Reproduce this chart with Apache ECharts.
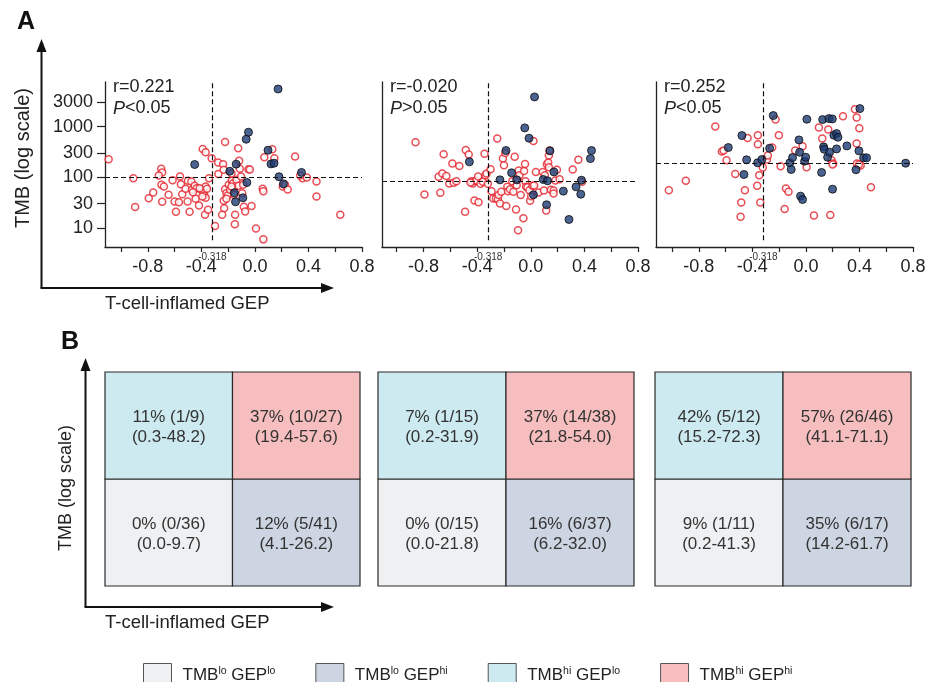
<!DOCTYPE html>
<html><head><meta charset="utf-8">
<script src="https://cdn.jsdelivr.net/npm/echarts@6/dist/echarts.min.js"></script>
<style>html,body{margin:0;padding:0;background:#fff}#c{width:939px;height:682px}</style>
</head><body><div id="c"></div>
<script>
// ---------- Panel A data: [GEP score, TMB] ----------
const p1Red = [[-1.093,226],[-0.908,95],[-0.895,25.6],[-0.793,38.5],[-0.760,49.8],[-0.700,146],[-0.693,124],[-0.718,108],[-0.698,70.6],[-0.680,65.5],[-0.693,32.6],[-0.645,44.8],[-0.615,87.3],[-0.600,33.1],[-0.590,20.7],[-0.568,32.1],[-0.560,103],[-0.553,72.8],[-0.543,46.1],[-0.518,58.9],[-0.503,33.1],[-0.500,84.7],[-0.488,20.7],[-0.475,82.1],[-0.470,56.2],[-0.450,67.4],[-0.443,37.3],[-0.435,60.7],[-0.418,27.6],[-0.400,56.2],[-0.385,50.6],[-0.378,43.5],[-0.368,65.5],[-0.368,39.1],[-0.373,18.1],[-0.350,22.6],[-0.390,362],[-0.368,311],[-0.343,95.5],[-0.323,237],[-0.413,60.7],[-0.393,41.5],[-0.463,50.6],[-0.358,58.9],[-0.298,10.9],[-0.275,195],[-0.273,115],[-0.238,181],[-0.233,140],[-0.223,498],[-0.223,57.9],[-0.233,34.1],[-0.230,24.4],[-0.245,18.1],[-0.213,48.3],[-0.203,43.5],[-0.195,70.6],[-0.185,56.2],[-0.173,84.7],[-0.163,76.2],[-0.158,60.7],[-0.150,11.8],[-0.148,18.1],[-0.138,88.5],[-0.125,373],[-0.118,210],[-0.113,146],[-0.103,103],[-0.095,48.3],[-0.083,25.9],[-0.073,21.0],[-0.048,144],[-0.038,142],[-0.025,26.8],[0.008,9.7],[0.058,58.9],[0.063,53],[0.063,5.9],[0.070,248],[0.130,357],[0.145,237],[0.208,65.5],[0.225,70.6],[0.245,57.1],[0.300,256],[0.355,95.5],[0.388,98.5],[0.460,82.1],[0.460,41.5],[0.638,18.1],[-0.123,67.4],[-0.155,44.8],[0.338,108],[-0.175,118],[-0.213,37.3],[-0.175,65.5],[-0.088,70.6]];
const p1Blue = [[-0.450,178],[-0.188,131],[-0.140,181],[-0.060,78.5],[-0.153,49.1],[-0.145,32.6],[-0.090,39.1],[-0.065,562],[-0.048,773],[0.098,341],[0.120,183],[0.143,189],[0.180,102],[0.213,73.8],[0.348,124],[0.173,5530]];
const p2Red = [[-0.860,491],[-0.793,45.5],[-0.688,102],[-0.675,49.1],[-0.660,118],[-0.650,284],[-0.630,106],[-0.608,75],[-0.585,186],[-0.575,77.3],[-0.555,83.4],[-0.533,167],[-0.490,20.7],[-0.485,346],[-0.463,280],[-0.443,83.4],[-0.433,75],[-0.420,34.6],[-0.418,83.4],[-0.405,85.9],[-0.393,103],[-0.390,32.1],[-0.375,73.8],[-0.358,80.9],[-0.345,289],[-0.338,109],[-0.330,118],[-0.320,73.8],[-0.450,78.5],[-0.300,144],[-0.293,52.9],[-0.280,37.9],[-0.260,37.9],[-0.250,579],[-0.245,36.8],[-0.240,44.2],[-0.230,30.2],[-0.220,51.4],[-0.208,233],[-0.200,172],[-0.190,302],[-0.183,26.8],[-0.175,64.4],[-0.170,52.9],[-0.155,57.9],[-0.138,83.4],[-0.130,51.4],[-0.120,252],[-0.110,23.0],[-0.105,69.5],[-0.100,91.4],[-0.090,135],[-0.095,8.9],[-0.085,109],[-0.075,44.2],[-0.055,15.5],[-0.050,133],[-0.043,183],[-0.040,83.4],[-0.035,64.4],[-0.025,63.5],[-0.010,55.3],[-0.005,34.1],[0.003,42.2],[0.013,67.4],[0.020,521],[0.025,68.5],[0.038,127],[0.058,49.8],[0.090,127],[0.098,54.6],[0.105,109],[0.115,22.0],[0.120,181],[0.130,195],[0.135,268],[0.140,336],[0.135,157],[0.150,56.2],[0.170,54.6],[0.170,47.6],[0.183,85.9],[0.195,140],[0.215,91.4],[0.313,142],[0.355,220],[0.383,80.9]];
const p2Blue = [[-0.458,201],[-0.230,88.5],[-0.185,336],[-0.143,122],[-0.105,88.5],[-0.045,942],[-0.013,589],[0.020,44.8],[0.028,3850],[0.093,89.9],[0.125,84.7],[0.143,331],[0.173,127],[0.118,28.5],[0.243,52.9],[0.285,14.6],[0.338,64.4],[0.373,46.1],[0.378,87.3],[0.445,233],[0.453,336]];
const p3Red = [[-1.024,55.3],[-0.897,84.7],[-0.677,1000],[-0.628,321],[-0.615,336],[-0.593,217],[-0.528,115],[-0.488,16.5],[-0.483,31.6],[-0.456,55.3],[-0.436,597],[-0.364,67.4],[-0.359,674],[-0.359,448],[-0.349,109],[-0.341,31.6],[-0.322,155],[-0.291,223],[-0.284,268],[-0.252,385],[-0.227,1374],[-0.202,674],[-0.189,165],[-0.159,23.4],[-0.149,59.7],[-0.130,51.4],[-0.080,336],[-0.025,409],[0.005,157],[0.060,17.5],[0.097,955],[0.122,579],[0.167,873],[0.182,17.8],[0.192,217],[0.204,186],[0.277,1600],[0.366,2200],[0.379,1506],[0.379,462],[0.381,186],[0.399,927],[0.409,170],[0.486,63.5],[0.199,178],[0.396,178]];
const p3Blue = [[-0.580,385],[-0.478,664],[-0.463,113],[-0.443,220],[-0.361,192],[-0.329,223],[-0.271,373],[-0.244,1650],[-0.120,192],[-0.110,142],[-0.100,244],[-0.052,545],[-0.047,311],[-0.040,42.2],[-0.025,36.2],[-0.010,207],[-0.002,248],[0.007,1396],[0.117,124],[0.125,1375],[0.132,397],[0.137,357],[0.162,248],[0.172,1440],[0.177,311],[0.197,1416],[0.199,57.9],[0.209,674],[0.229,728],[0.239,615],[0.229,362],[0.306,415],[0.374,140],[0.396,331],[0.403,2265],[0.431,241],[0.453,241],[0.745,189]];

const statR = ['r=0.221', 'r=-0.020', 'r=0.252'];
const statP = ['<0.05', '>0.05', '<0.05'];
const gepCut = -0.318;
const tmbCut = [100, 83, 186];
const gepMin = [-1.12, -1.11, -1.12];
const gepMax = 0.8;
const tmbMin = 4.17, tmbMax = 7600;
const vLineTmb = [5.7, 7300];
const gepTicks = [-1.0, -0.8, -0.6, -0.4, -0.2, 0.0, 0.2, 0.4, 0.6, 0.8];
const gepLabels = [-0.8, -0.4, 0.0, 0.4, 0.8];
const tmbTicks = [10, 30, 100, 300, 1000, 3000];

// ---------- Panel B data ----------
const classKeys = ['lolo', 'lohi', 'hilo', 'hihi'];
const classGep = ['lo', 'hi', 'lo', 'hi'];
const classTmb = ['lo', 'lo', 'hi', 'hi'];
const classNames = ['TMB{s|lo} GEP{s|lo}', 'TMB{s|lo} GEP{s|hi}', 'TMB{s|hi} GEP{s|lo}', 'TMB{s|hi} GEP{s|hi}'];
const classColors = ['#eff0f2', '#ced5e2', '#cdeaf0', '#f6bebe'];
const bRate = [
  ['0% (0/36)', '12% (5/41)', '11% (1/9)', '37% (10/27)'],
  ['0% (0/15)', '16% (6/37)', '7% (1/15)', '37% (14/38)'],
  ['9% (1/11)', '35% (6/17)', '42% (5/12)', '57% (26/46)']
];
const bCI = [
  ['(0.0-9.7)', '(4.1-26.2)', '(0.3-48.2)', '(19.4-57.6)'],
  ['(0.0-21.8)', '(6.2-32.0)', '(0.2-31.9)', '(21.8-54.0)'],
  ['(0.2-41.3)', '(14.2-61.7)', '(15.2-72.3)', '(41.1-71.1)']
];
const levels = ['lo', 'hi'];

// ---------- layout ----------
const FONT = '"Liberation Sans", Arial, Helvetica, sans-serif';
const aGrids = [
  {left: 105, top: 82, width: 257, height: 165},
  {left: 382, top: 82, width: 256, height: 165},
  {left: 656, top: 82, width: 257, height: 165}
];
const bGrids = [
  {left: 105, top: 372, width: 255, height: 214},
  {left: 378, top: 372, width: 256, height: 214},
  {left: 655, top: 372, width: 256, height: 214}
];
const redSets = [p1Red, p2Red, p3Red];
const blueSets = [p1Blue, p2Blue, p3Blue];
const lg = v => Math.log10(v);

const grid = [], xAxis = [], yAxis = [], series = [], graphic = [];

aGrids.forEach((g, i) => {
  grid.push(Object.assign({}, g));
  xAxis.push({
    type: 'value', gridIndex: i, min: gepMin[i], max: gepMax,
    axisLine: {show: true, onZero: false, lineStyle: {color: '#222', width: 1.3}},
    axisTick: {show: true, length: 5, customValues: gepTicks, lineStyle: {color: '#222', width: 1.2}},
    axisLabel: {show: true, customValues: gepLabels, margin: 11, fontSize: 18, color: '#222', fontFamily: FONT,
      formatter: v => v.toFixed(1)},
    splitLine: {show: false}
  });
  yAxis.push({
    type: 'value', gridIndex: i, min: lg(tmbMin), max: lg(tmbMax),
    axisLine: {show: true, onZero: false, lineStyle: {color: '#222', width: 1.3}},
    axisTick: {show: i === 0, length: 8, customValues: tmbTicks.map(lg), lineStyle: {color: '#222', width: 1.2}},
    axisLabel: {show: i === 0, customValues: tmbTicks.map(lg), margin: 12, fontSize: 18, color: '#222', fontFamily: FONT,
      formatter: v => String(Math.round(Math.pow(10, v)))},
    splitLine: {show: false}
  });
  series.push({
    type: 'scatter', xAxisIndex: i, yAxisIndex: i, symbol: 'circle', symbolSize: 7,
    data: redSets[i].map(d => [d[0], lg(d[1])]),
    itemStyle: {color: '#ffffff', borderColor: '#e4202a', borderWidth: 1.5},
    z: 3, silent: true,
    markLine: {
      silent: true, symbol: ['none', 'none'], animation: false,
      lineStyle: {color: '#111', width: 1.2, type: [5, 3]},
      data: [
        [{coord: [gepCut, lg(vLineTmb[0])], label: {show: true, position: 'start', formatter: gepCut.toFixed(3), fontSize: 10, color: '#333', distance: 12, fontFamily: FONT}},
         {coord: [gepCut, lg(vLineTmb[1])]}],
        {yAxis: lg(tmbCut[i]), label: {show: false}}
      ]
    }
  });
  series.push({
    type: 'scatter', xAxisIndex: i, yAxisIndex: i, symbol: 'circle', symbolSize: 8,
    data: blueSets[i].map(d => [d[0], lg(d[1])]),
    itemStyle: {color: '#1e3c74', borderColor: '#0a0a0a', borderWidth: 1},
    z: 4, silent: true
  });
  graphic.push({
    type: 'text', left: g.left + 8, top: 77, z: 10,
    style: {text: statR[i] + '\n{i|P}' + statP[i], fontSize: 18, lineHeight: 21, fill: '#222', fontFamily: FONT,
      rich: {i: {fontStyle: 'italic', fontSize: 18, fontFamily: FONT, fill: '#222'}}}
  });
});

bGrids.forEach((g, j) => {
  const gi = 3 + j;
  grid.push(Object.assign({}, g));
  xAxis.push({type: 'category', gridIndex: gi, data: levels, show: false});
  yAxis.push({type: 'category', gridIndex: gi, data: levels, show: false});
  classKeys.forEach((k, c) => {
    series.push({
      type: 'custom', name: k, xAxisIndex: gi, yAxisIndex: gi,
      itemStyle: {color: classColors[c], borderColor: '#555', borderWidth: 1},
      data: [[classGep[c], classTmb[c], bRate[j][c], bCI[j][c]]],
      encode: {x: 0, y: 1},
      silent: true,
      renderItem: function (params, api) {
        const p = api.coord([api.value(0), api.value(1)]);
        const s = api.size([1, 1]);
        return {
          type: 'group',
          children: [
            {type: 'rect', shape: {x: p[0] - s[0] / 2, y: p[1] - s[1] / 2, width: s[0], height: s[1]},
             style: {fill: classColors[c], stroke: '#2a2a2a', lineWidth: 1.2}},
            {type: 'text', x: p[0], y: p[1] + 2,
             style: {text: bRate[j][c] + '\n' + bCI[j][c], align: 'center', verticalAlign: 'middle',
               fontSize: 17, lineHeight: 20, fill: '#333', fontFamily: FONT}}
          ]
        };
      }
    });
  });
});

// big axis arrows and titles
function arrow(x0, y0, xTop, xRight) {
  const st = {stroke: '#111', lineWidth: 2};
  graphic.push({type: 'line', shape: {x1: x0, y1: y0, x2: x0, y2: xTop + 10}, style: st, silent: true});
  graphic.push({type: 'polygon', shape: {points: [[x0, xTop], [x0 - 5, xTop + 13], [x0 + 5, xTop + 13]]}, style: {fill: '#111'}, silent: true});
  graphic.push({type: 'line', shape: {x1: x0 - 1, y1: y0, x2: xRight - 10, y2: y0}, style: st, silent: true});
  graphic.push({type: 'polygon', shape: {points: [[xRight, y0], [xRight - 13, y0 - 5], [xRight - 13, y0 + 5]]}, style: {fill: '#111'}, silent: true});
}
arrow(41.5, 288, 39, 334);
arrow(85.5, 607, 358, 334);

const titleStyle = {fill: '#222', fontFamily: FONT};
graphic.push({type: 'text', x: 23, y: 158, rotation: Math.PI / 2,
  style: Object.assign({text: 'TMB (log scale)', fontSize: 20, align: 'center', verticalAlign: 'middle'}, titleStyle)});
graphic.push({type: 'text', x: 105, y: 304,
  style: Object.assign({text: 'T-cell-inflamed GEP', fontSize: 18.5, align: 'left', verticalAlign: 'middle'}, titleStyle)});
graphic.push({type: 'text', x: 66, y: 488, rotation: Math.PI / 2,
  style: Object.assign({text: 'TMB (log scale)', fontSize: 18, align: 'center', verticalAlign: 'middle'}, titleStyle)});
graphic.push({type: 'text', x: 105, y: 623,
  style: Object.assign({text: 'T-cell-inflamed GEP', fontSize: 18.5, align: 'left', verticalAlign: 'middle'}, titleStyle)});
graphic.push({type: 'text', x: 17, y: 22,
  style: {text: 'A', fontSize: 25, fontWeight: 'bold', fill: '#111', verticalAlign: 'middle', fontFamily: '"Liberation Sans Narrow", "Liberation Sans", Arial, sans-serif'}});
graphic.push({type: 'text', x: 61, y: 342,
  style: {text: 'B', fontSize: 25, fontWeight: 'bold', fill: '#111', verticalAlign: 'middle', fontFamily: '"Liberation Sans Narrow", "Liberation Sans", Arial, sans-serif'}});

const option = {
  animation: false,
  backgroundColor: '#ffffff',
  grid: grid, xAxis: xAxis, yAxis: yAxis, series: series, graphic: graphic,
  legend: {
    data: classKeys, left: 138, top: 658, icon: 'rect', itemWidth: 28, itemHeight: 30, itemGap: 40,
    selectedMode: false,
    itemStyle: {borderColor: '#555', borderWidth: 1},
    formatter: name => classNames[classKeys.indexOf(name)],
    textStyle: {fontSize: 17, color: '#222', fontFamily: FONT, padding: [0, 0, 6, 6],
      rich: {s: {fontSize: 10.5, color: '#222', fontFamily: FONT, padding: [0, 0, 8, 0]}}}
  }
};

const chart = echarts.init(document.getElementById('c'), null, {renderer: 'canvas'});
chart.setOption(option);
</script>
</body></html>
